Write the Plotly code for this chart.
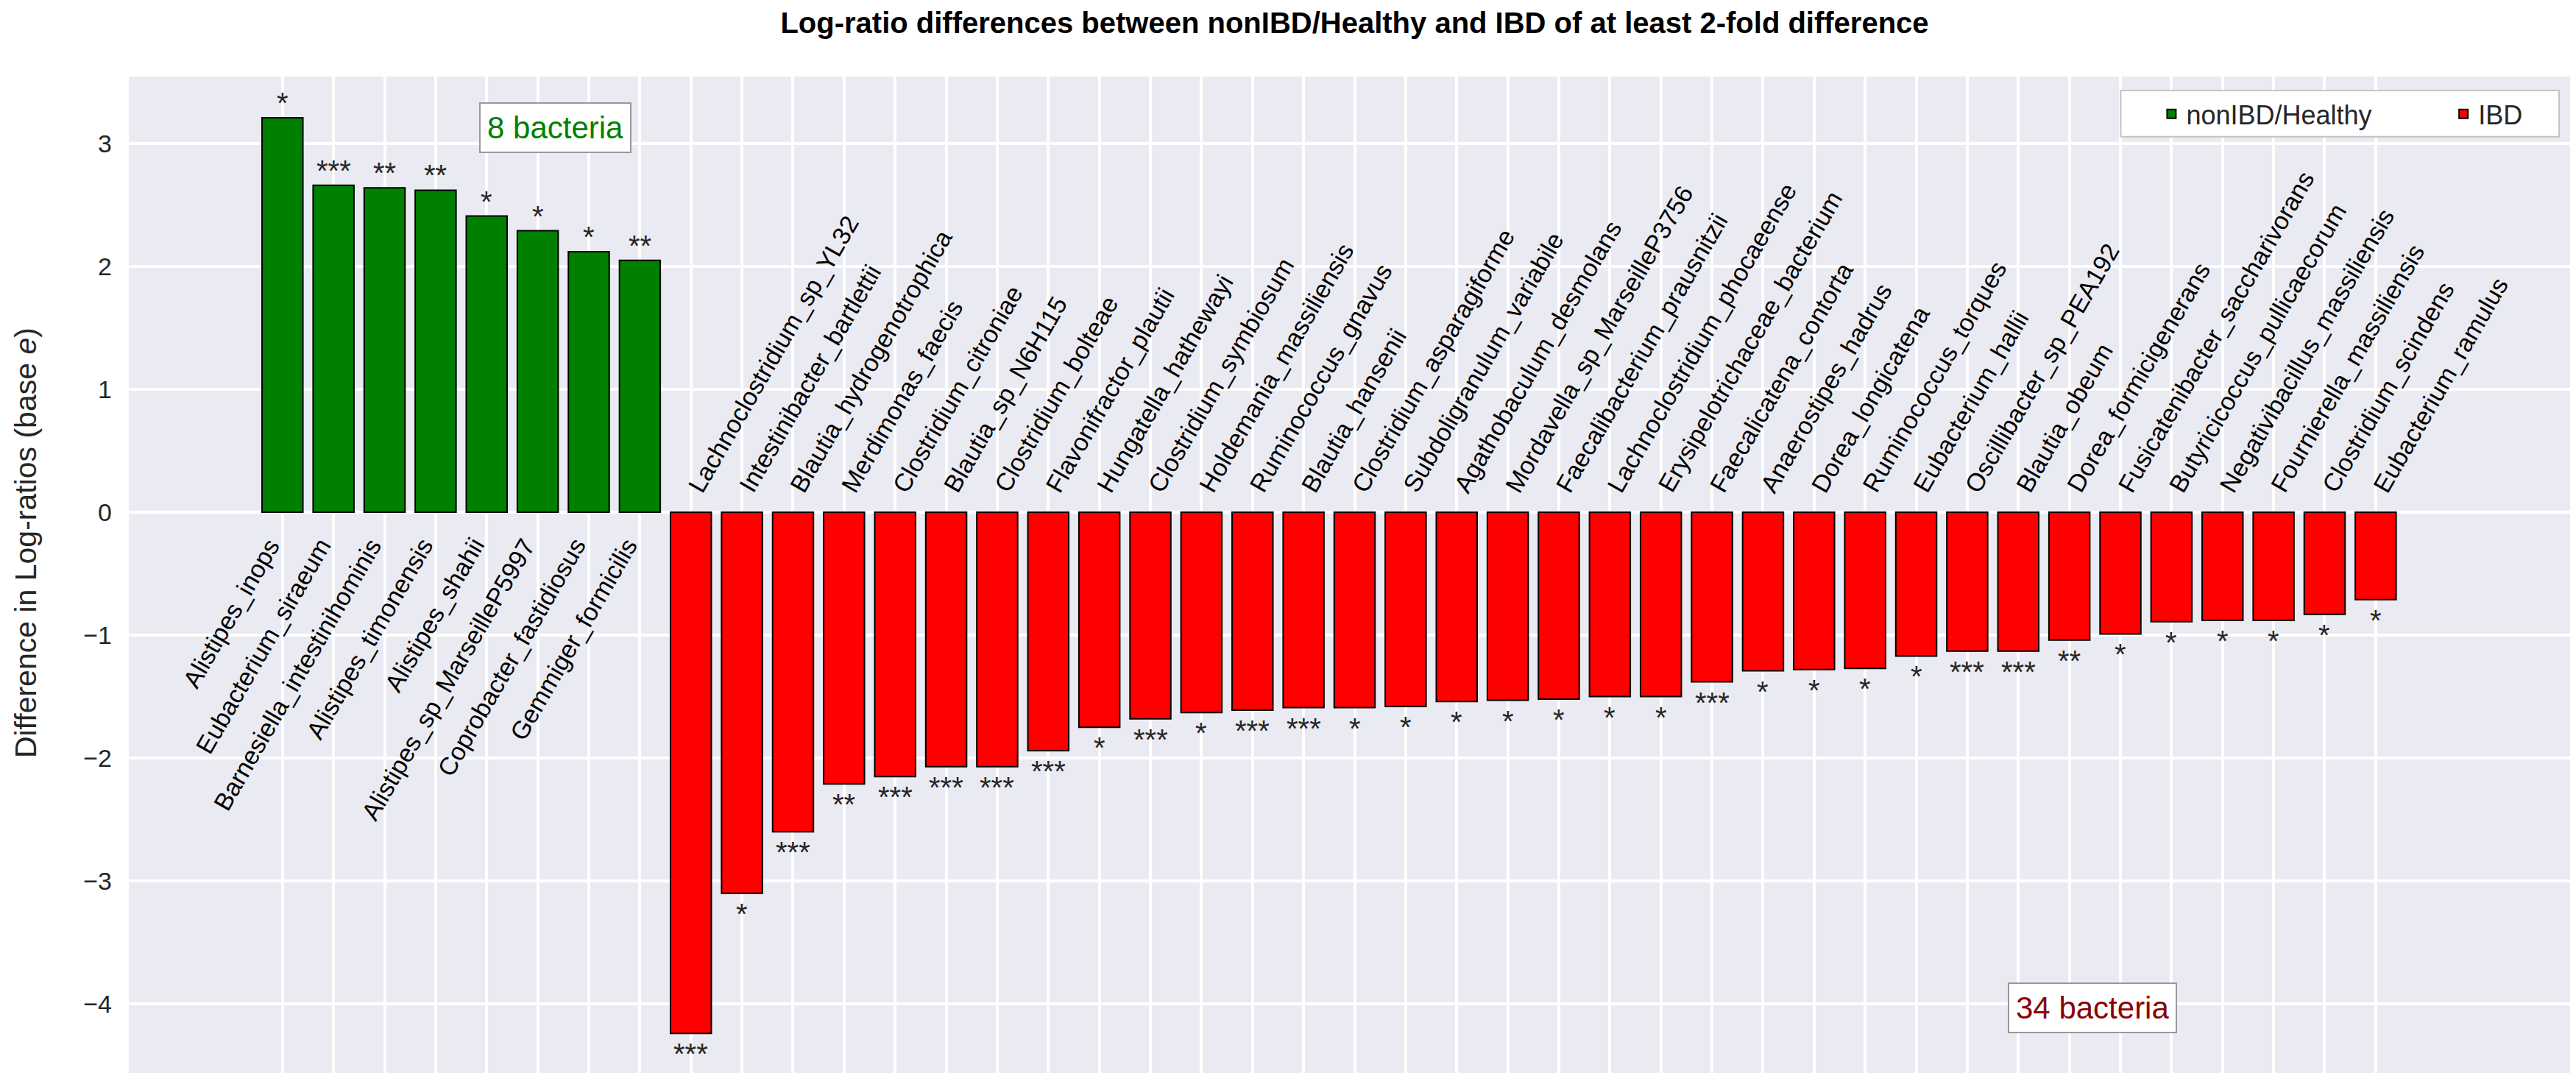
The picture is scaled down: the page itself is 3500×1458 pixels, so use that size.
import plotly.graph_objects as go

# nonIBD/Healthy enriched bacteria
green_names = [
    "Alistipes_inops", "Eubacterium_siraeum", "Barnesiella_intestinihominis",
    "Alistipes_timonensis", "Alistipes_shahii", "Alistipes_sp_MarseilleP5997",
    "Coprobacter_fastidiosus", "Gemmiger_formicilis",
]
green_vals = [3.21, 2.66, 2.64, 2.62, 2.41, 2.29, 2.12, 2.05]
green_sig = ["*", "***", "**", "**", "*", "*", "*", "**"]

# IBD enriched bacteria
red_names = [
    "Lachnoclostridium_sp_YL32", "Intestinibacter_bartlettii", "Blautia_hydrogenotrophica",
    "Merdimonas_faecis", "Clostridium_citroniae", "Blautia_sp_N6H115", "Clostridium_bolteae",
    "Flavonifractor_plautii", "Hungatella_hathewayi", "Clostridium_symbiosum",
    "Holdemania_massiliensis", "Ruminococcus_gnavus", "Blautia_hansenii",
    "Clostridium_asparagiforme", "Subdoligranulum_variabile", "Agathobaculum_desmolans",
    "Mordavella_sp_MarseilleP3756", "Faecalibacterium_prausnitzii",
    "Lachnoclostridium_phocaeense", "Erysipelotrichaceae_bacterium", "Faecalicatena_contorta",
    "Anaerostipes_hadrus", "Dorea_longicatena", "Ruminococcus_torques", "Eubacterium_hallii",
    "Oscillibacter_sp_PEA192", "Blautia_obeum", "Dorea_formicigenerans",
    "Fusicatenibacter_saccharivorans", "Butyricicoccus_pullicaecorum",
    "Negativibacillus_massiliensis", "Fournierella_massiliensis", "Clostridium_scindens",
    "Eubacterium_ramulus",
]
red_vals = [
    -4.24, -3.10, -2.60, -2.21, -2.15, -2.07, -2.07, -1.94, -1.75, -1.68, -1.63, -1.61,
    -1.59, -1.59, -1.58, -1.54, -1.53, -1.52, -1.50, -1.50, -1.38, -1.29, -1.28, -1.27,
    -1.17, -1.13, -1.13, -1.04, -0.99, -0.89, -0.88, -0.88, -0.83, -0.71,
]
red_sig = [
    "***", "*", "***", "**", "***", "***", "***", "***", "*", "***", "*", "***", "***",
    "*", "*", "*", "*", "*", "*", "*", "***", "*", "*", "*", "*", "***", "***", "**",
    "*", "*", "*", "*", "*", "*",
]

y_ticks = [-4, -3, -2, -1, 0, 1, 2, 3]

FONT = "Liberation Sans, Arial, sans-serif"
TXT = "#262626"

green_x = list(range(len(green_names)))
red_x = list(range(len(green_names), len(green_names) + len(red_names)))

fig = go.Figure()
fig.add_trace(go.Bar(
    x=green_x, y=green_vals, name="nonIBD/Healthy", width=0.8, legend="legend",
    marker=dict(color="green", line=dict(color="black", width=2)),
))
fig.add_trace(go.Bar(
    x=red_x, y=red_vals, name="IBD", width=0.8, legend="legend2",
    marker=dict(color="red", line=dict(color="black", width=2)),
))

annots = []
# species labels, rotated, sitting on the zero line
for xi, name in zip(green_x, green_names):
    annots.append(dict(x=xi, y=0, text=name, showarrow=False, textangle=-60,
                       xanchor="right", yanchor="top", xshift=6, yshift=-26,
                       font=dict(size=34, color="black", family=FONT)))
for xi, name in zip(red_x, red_names):
    annots.append(dict(x=xi, y=0, text=name, showarrow=False, textangle=-60,
                       xanchor="left", yanchor="bottom", xshift=-14, yshift=18,
                       font=dict(size=34, color="black", family=FONT)))
# significance stars
for xi, v, s in zip(green_x, green_vals, green_sig):
    annots.append(dict(x=xi, y=v, text=s, showarrow=False, xanchor="center",
                       yanchor="bottom", yshift=-4,
                       font=dict(size=40, color=TXT, family=FONT)))
for xi, v, s in zip(red_x, red_vals, red_sig):
    annots.append(dict(x=xi, y=v, text=s, showarrow=False, xanchor="center",
                       yanchor="top", yshift=-4,
                       font=dict(size=40, color=TXT, family=FONT)))
# count boxes
annots.append(dict(x=5.35, y=3.13, text=f"{len(green_names)} bacteria", showarrow=False,
                   bgcolor="white", bordercolor="#999999", borderwidth=2, borderpad=9,
                   font=dict(size=42, color="green", family=FONT)))
annots.append(dict(x=35.45, y=-4.03, text=f"{len(red_names)} bacteria", showarrow=False,
                   bgcolor="white", bordercolor="#999999", borderwidth=2, borderpad=9,
                   font=dict(size=42, color="darkred", family=FONT)))
# y axis title
annots.append(dict(xref="paper", yref="paper", x=-0.0418, y=0.535,
                   text="Difference in Log-ratios (base <i>e</i>)", showarrow=False,
                   textangle=-90, xanchor="center", yanchor="middle",
                   font=dict(size=41, color=TXT, family=FONT)))

legend_style = dict(orientation="h", yanchor="middle", y=0.9626, xanchor="left",
                    bgcolor="rgba(0,0,0,0)", borderwidth=0,
                    font=dict(size=36, color=TXT, family=FONT))

fig.update_layout(
    width=3500, height=1458,
    margin=dict(l=167, r=2, t=96, b=0),
    paper_bgcolor="white", plot_bgcolor="#EAEAF2",
    barmode="overlay",
    title=dict(text="Log-ratio differences between nonIBD/Healthy and IBD of at least 2-fold difference",
               x=0.5, xref="paper", y=1.0, yref="container", yanchor="top",
               pad=dict(t=9),
               font=dict(size=40, color="black", family=FONT, weight="bold")),
    legend=dict(legend_style, x=0.8272),
    legend2=dict(legend_style, x=0.9463),
    # frame shared by both legend entries
    shapes=[dict(type="rect", xref="paper", yref="paper", x0=0.8125, x1=0.9913,
                 y0=0.940, y1=0.986, fillcolor="white", layer="above",
                 line=dict(color="#c4c4c4", width=2))],
    annotations=annots,
    showlegend=True,
)
fig.update_xaxes(range=[-3.01, 45.01], tickvals=green_x + red_x, showticklabels=False,
                 showgrid=True, gridcolor="white", gridwidth=3.5, zeroline=False, ticks="")
fig.update_yaxes(range=[-4.61, 3.545], tickvals=y_ticks, showgrid=True, gridcolor="white",
                 gridwidth=4, zeroline=False, ticks="", ticklabelstandoff=22,
                 tickfont=dict(size=34, color=TXT, family=FONT))

fig.write_html("out.html", config={"displayModeBar": False})
